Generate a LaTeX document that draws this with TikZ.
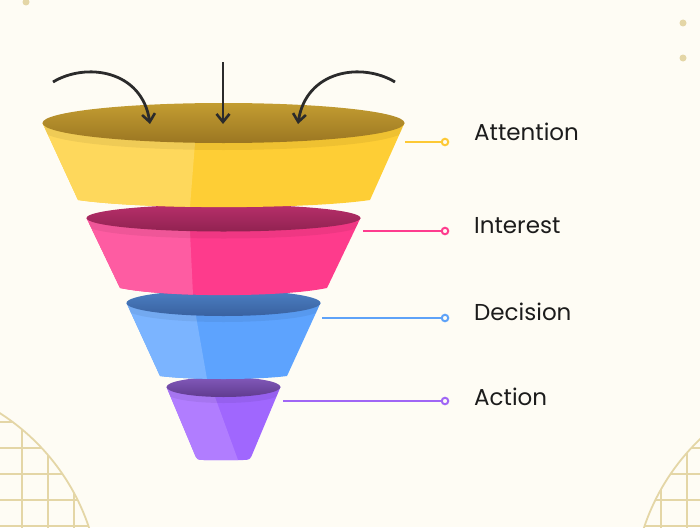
\documentclass[tikz,border=0pt]{standalone}
\usepackage{fontspec}
\setmainfont{Poppins}
\usetikzlibrary{arrows.meta,calc}
\definecolor{bg}{HTML}{FEFCF4}
\definecolor{deco}{HTML}{E4D6A6}
\definecolor{ink}{HTML}{2B2B2B}
\definecolor{txt}{HTML}{1C1C1C}
\definecolor{ycol}{HTML}{FDC935}
\definecolor{pcol}{HTML}{FE3C8E}
\definecolor{bcol}{HTML}{5EA2F8}
\definecolor{vcol}{HTML}{A066F5}
\definecolor{lleft}{HTML}{FFFFFF}
\definecolor{lright}{HTML}{FFFFFF}
\definecolor{ltop}{HTML}{FFFFFF}
\definecolor{lbot}{HTML}{FFFFFF}
\tikzset{
  decoline/.style={draw=deco,line width=1.8pt},
  flow/.style={draw=ink,line width=2.8pt,-{Straight Barb[length=8pt,width=13pt,line width=2.6pt]}},
  lbl/.style={anchor=base west,inner sep=0pt,text=txt,font=\fontsize{23}{27}\selectfont},
  ring/.style={circle,minimum size=6.5pt,inner sep=0pt,line width=2pt,fill=bg},
  leader/.style={line width=2.2pt},
}
% #1 cx  #2 cy  #3 rx  #4 ry  #5 band offset  #6 split top x  #7 split bottom x  #8 split bottom y  #9 body path
\newcommand\funnelLayer[9]{%
  \fill[lright] #9;
  \begin{scope}
    \clip #9;
    \coordinate (p1) at (#6,#2+#4);
    \coordinate (p2) at (#7,#8);
    \fill[lleft] ($(p1)!-1!(p2)$) -- ($(p1)!1.5!(p2)$) -- ++(-300,0) -- ($(p1)!-1!(p2)+(-300,0)$) -- cycle;
    \fill[black,opacity=0.06] (#1,#2+#5) ellipse [x radius=#3,y radius=#4];
  \end{scope}
  \shade[top color=ltop,bottom color=lbot] (#1,#2) ellipse [x radius=#3,y radius=#4];
}
\begin{document}
\begin{tikzpicture}[x=1pt,y=-1pt]
\useasboundingbox (0,0) rectangle (700,527);
\fill[bg] (0,0) rectangle (700,527);

% decorations
\fill[deco] (26,2) circle[radius=3.5];
\fill[deco] (683,23) circle[radius=3.5];
\fill[deco] (683,58) circle[radius=3.5];
\begin{scope}
  \clip (-117,596) circle[radius=217];
  \foreach \y in {422,448,474,500,526} \draw[decoline] (-350,\y) -- (150,\y);
  \foreach \x in {-30,-4,22,48,74} \draw[decoline] (\x,350) -- (\x,600);
\end{scope}
\draw[decoline] (-117,596) circle[radius=217];
\begin{scope}
  \clip (850,596) circle[radius=217];
  \foreach \y in {422,448,474,500,526} \draw[decoline] (600,\y) -- (760,\y);
  \foreach \x in {661,687,713} \draw[decoline] (\x,350) -- (\x,600);
\end{scope}
\draw[decoline] (850,596) circle[radius=217];

% purple layer
\definecolor{lleft}{HTML}{B17DFF}
\definecolor{lright}{HTML}{A067FE}
\definecolor{ltop}{HTML}{8259BA}
\definecolor{lbot}{HTML}{603B8F}
\funnelLayer{223.5}{387}{57}{10}{6}{215}{238}{460}{(166.5,387) -- (194,452.6) .. controls (197,460) .. (205,460) -- (242,460) .. controls (250,460) .. (253,452.6) -- (280.5,387) -- cycle}

% blue layer
\definecolor{lleft}{HTML}{7BB4FF}
\definecolor{lright}{HTML}{5DA3FE}
\definecolor{ltop}{HTML}{4C80C3}
\definecolor{lbot}{HTML}{3961A0}
\funnelLayer{223.5}{303}{97}{13}{6}{196}{207}{379}{(126.5,303) -- (160,376) .. controls (190,380) and (257,380) .. (287,376) -- (320.5,303) -- cycle}

% pink layer
\definecolor{lleft}{HTML}{FE5CA2}
\definecolor{lright}{HTML}{FE3B8C}
\definecolor{ltop}{HTML}{B72F6A}
\definecolor{lbot}{HTML}{912251}
\funnelLayer{223.5}{218}{137}{13.5}{7}{190}{193}{295}{(86.5,218) -- (120,288) .. controls (166,297.5) and (281,297.5) .. (327,288) -- (360.5,218) -- cycle}

% yellow layer
\definecolor{lleft}{HTML}{FED85C}
\definecolor{lright}{HTML}{FECE35}
\definecolor{ltop}{HTML}{C39D31}
\definecolor{lbot}{HTML}{9B7622}
\funnelLayer{223.5}{123}{181}{20}{7}{195}{190}{207}{(42.5,123) -- (78,200) .. controls (143,209.5) and (305,209.5) .. (370,200) -- (404.5,123) -- cycle}

% arrows
\coordinate (lsrc) at (53,82);
\coordinate (ltip) at (150,124);
\coordinate (csrc) at (223,62);
\coordinate (ctip) at (223,124);
\coordinate (rsrc) at (395,82);
\coordinate (rtip) at (298,124);
\draw[flow] (lsrc) .. controls (86,62) and (142,70) .. (ltip);
\draw[flow] (csrc) -- (ctip);
\draw[flow] (rsrc) .. controls (362,62) and (306,70) .. (rtip);

% labels
\coordinate (sA) at (405,142);
\coordinate (sI) at (363,231);
\coordinate (sD) at (322,318);
\coordinate (sC) at (283,401);
\node[ring,draw=ycol] (cA) at (445,142) {};
\node[ring,draw=pcol] (cI) at (445,231) {};
\node[ring,draw=bcol] (cD) at (445,318) {};
\node[ring,draw=vcol] (cC) at (445,401) {};
\draw[leader,ycol] (sA) -- (cA.west);
\draw[leader,pcol] (sI) -- (cI.west);
\draw[leader,bcol] (sD) -- (cD.west);
\draw[leader,vcol] (sC) -- (cC.west);
\node[lbl] (tA) at (474,140) {Attention};
\node[lbl] (tI) at (474,233) {Interest};
\node[lbl] (tD) at (474,320) {Decision};
\node[lbl] (tC) at (474,405) {Action};
\end{tikzpicture}
\end{document}
